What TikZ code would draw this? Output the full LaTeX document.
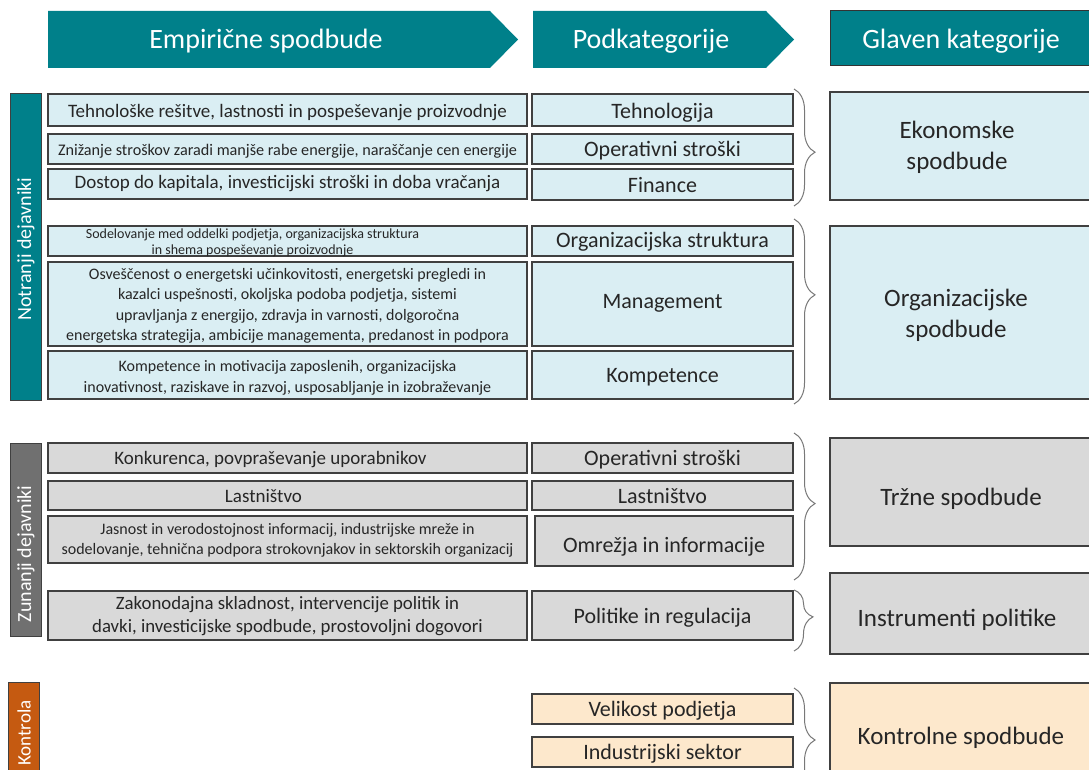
\documentclass[tikz,border=0pt]{standalone}
\usepackage{fontspec}
\setmainfont{Carlito}
\usetikzlibrary{fit,decorations.pathreplacing}
\definecolor{tealc}{RGB}{0,128,138}
\definecolor{lblue}{RGB}{218,238,243}
\definecolor{lgray}{RGB}{217,217,217}
\definecolor{dgray}{RGB}{112,112,112}
\definecolor{orng}{RGB}{197,90,17}
\definecolor{lorng}{RGB}{253,232,204}
\definecolor{bord}{RGB}{64,64,64}
\definecolor{brcc}{RGB}{120,120,120}
\newcommand\bx[9][0,2]{\node[#3, fit={(#5,#6) (#7,#8)}] (#2) {};
  \node[#4, align=center, text=black!85, inner sep=0pt] at ([shift={(#1)}]#2.center) {#9};}
\begin{document}
\begin{tikzpicture}[x=1pt,y=-1pt,
  base/.style={draw=bord, line width=1.3pt, inner sep=0pt},
  bb/.style={base, fill=lblue},
  gb/.style={base, fill=lgray},
  ob/.style={base, fill=lorng},
  fa/.style={font=\fontsize{14}{16}\selectfont},
  fb/.style={font=\fontsize{16.2}{19}\selectfont},
  fc/.style={font=\fontsize{16}{20.5}\selectfont},
  fd/.style={font=\fontsize{19}{22}\selectfont},
  fe/.style={font=\fontsize{18.8}{22.5}\selectfont},
  sub/.style={font=\fontsize{22}{25}\selectfont},
  big/.style={font=\fontsize{25}{31}\selectfont},
  hdr/.style={font=\fontsize{28}{30}\selectfont, text=white},
  side/.style={draw=bord, line width=0.8pt, inner sep=0pt},
  vlab/.style={rotate=90, text=white, font=\fontsize{20}{22}\selectfont},
  brc/.style={draw=brcc, line width=1pt, decorate, decoration={brace, amplitude=21pt}}
]
\useasboundingbox (0,0) rectangle (1089,770);
\clip (0,0) rectangle (1089,770);
\fill[white] (0,0) rectangle (1089,770);

% headers
\fill[tealc] (48,11) -- (490,11) -- (518,39.5) -- (490,68) -- (48,68) -- cycle;
\node[hdr] (h1) at (266,41.5) {Empirične spodbude};
\fill[tealc] (533,11) -- (766,11) -- (794,39.5) -- (766,68) -- (533,68) -- cycle;
\node[hdr] (h2) at (651,41.5) {Podkategorije};
\node[draw=black!80, line width=1pt, fill=tealc, inner sep=0pt, fit={(830,11) (1092,66)}] (h3) {};
\node[hdr] at (961,41) {Glaven kategorije};

% side bars
\node[side, fill=tealc, fit={(10,93) (41,400)}] (s1) {};
\node[vlab] at (26,249) {Notranji dejavniki};
\node[side, fill=dgray, fit={(10,443) (41,636)}] (s2) {};
\node[vlab] at (26,554) {Zunanji dejavniki};
\node[side, fill=orng, fit={(8,682) (39,790)}] (s3) {};
\node[vlab, font=\fontsize{19}{21}\selectfont] at (24,733) {Kontrola};

% column 1
\bx[0,3]{e1}{bb}{fd}{48}{94}{527}{126}{Tehnološke rešitve, lastnosti in pospeševanje proizvodnje}
\bx{e2}{bb}{fb}{48}{134}{527}{164}{Znižanje stroškov zaradi manjše rabe energije, naraščanje cen energije}
\bx[0,0]{e3}{bb}{fd}{48}{169}{527}{199}{Dostop do kapitala, investicijski stroški in doba vračanja}
\bx[-35,1.5]{e4}{bb}{fa}{48}{226}{527}{256}{Sodelovanje med oddelki podjetja, organizacijska struktura\\in shema pospeševanje proizvodnje}
\bx{e5}{bb}{fc}{48}{262}{527}{346}{Osveščenost o energetski učinkovitosti, energetski pregledi in\\kazalci uspešnosti, okoljska podoba podjetja, sistemi\\upravljanja z energijo, zdravja in varnosti, dolgoročna\\energetska strategija, ambicije managementa, predanost in podpora}
\bx[0,3]{e6}{bb}{fc}{48}{351}{527}{399}{Kompetence in motivacija zaposlenih, organizacijska\\inovativnost, raziskave in razvoj, usposabljanje in izobraževanje}
\bx[-17,2]{e7}{gb}{fd}{48}{443}{527}{473}{Konkurenca, povpraševanje uporabnikov}
\bx[-24,1]{e8}{gb}{fd}{48}{481}{527}{510}{Lastništvo}
\bx[0,1]{e9}{gb}{fc}{48}{516}{527}{563}{Jasnost in verodostojnost informacij, industrijske mreže in\\sodelovanje, tehnična podpora strokovnjakov in sektorskih organizacij}
\bx[0,0.5]{e10}{gb}{fe}{48}{591}{527}{640}{Zakonodajna skladnost, intervencije politik in\\davki, investicijske spodbude, prostovoljni dogovori}

% column 2
\bx[0,3]{p1}{bb}{sub}{532}{94}{793}{126}{Tehnologija}
\bx{p2}{bb}{sub}{532}{134}{793}{164}{Operativni stroški}
\bx[0,1]{p3}{bb}{sub}{532}{169}{793}{200}{Finance}
\bx[0,1]{p4}{bb}{sub}{532}{226}{793}{256}{Organizacijska struktura}
\bx[0,-1]{p5}{bb}{sub}{532}{262}{793}{346}{Management}
\bx{p6}{bb}{sub}{532}{351}{793}{399}{Kompetence}
\bx{p7}{gb}{sub}{532}{443}{793}{473}{Operativni stroški}
\bx[0,1]{p8}{gb}{sub}{532}{481}{793}{510}{Lastništvo}
\bx[0,6]{p9}{gb}{sub}{535}{516}{793}{566}{Omrežja in informacije}
\bx{p10}{gb}{sub}{532}{591}{793}{640}{Politike in regulacija}
\bx{p11}{ob}{sub}{532}{694}{793}{724}{Velikost podjetja}
\bx{p12}{ob}{sub}{532}{737}{793}{767}{Industrijski sektor}

% right column
\bx[-4,1]{g1}{bb}{big}{830}{92}{1092}{200}{Ekonomske\\spodbude}
\bx[-5,3]{g2}{bb}{big}{830}{226}{1092}{399}{Organizacijske\\spodbude}
\bx[0,7]{g3}{gb}{big}{830}{438}{1092}{546}{Tržne spodbude}
\bx[-4,6]{g4}{gb}{big}{830}{573}{1092}{654}{Instrumenti politike}
\bx[0,-3.5]{g5}{ob}{big}{830}{683}{1092}{800}{Kontrolne spodbude}

% braces
\coordinate (b1a) at (794,89);  \coordinate (b1b) at (794,206);
\coordinate (b2a) at (794,219); \coordinate (b2b) at (794,404);
\coordinate (b3a) at (794,433); \coordinate (b3b) at (794,580);
\coordinate (b4a) at (794,590); \coordinate (b4b) at (794,651);
\coordinate (b5a) at (794,688); \coordinate (b5b) at (794,792);
\draw[brc, decoration={aspect=0.54}] (b1a) -- (b1b);
\draw[brc, decoration={aspect=0.41}] (b2a) -- (b2b);
\draw[brc, decoration={aspect=0.48}] (b3a) -- (b3b);
\draw[brc, decoration={aspect=0.44, amplitude=19pt}] (b4a) -- (b4b);
\draw[brc, decoration={aspect=0.5}] (b5a) -- (b5b);
\end{tikzpicture}
\end{document}
